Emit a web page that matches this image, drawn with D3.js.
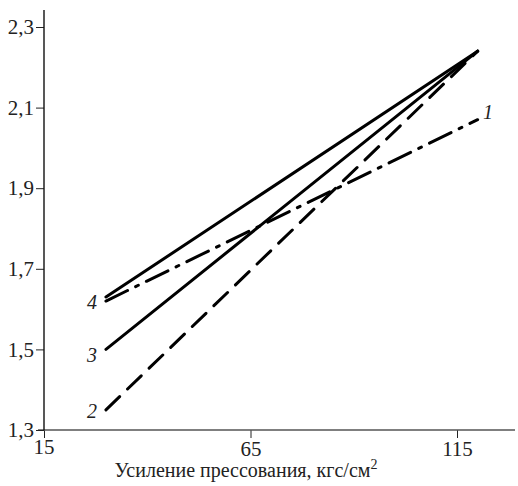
<!DOCTYPE html>
<html>
<head>
<meta charset="utf-8">
<script src="https://cdn.jsdelivr.net/npm/d3@7"></script>
<style>
  body { margin: 0; background: #fff; }
</style>
</head>
<body>
<div id="graphic"></div>
<script>
// data
const xTicks = [15, 65, 115];
const yTicks = [1.3, 1.5, 1.7, 1.9, 2.1, 2.3];
const curveIds = ["1", "2", "3", "4"];
const curveX = [30, 120];
const curve1 = [1.62, 2.07];
const curve2 = [1.35, 2.24];
const curve3 = [1.50, 2.24];
const curve4 = [1.63, 2.24];

const width = 518, height = 486;
const serif = "'Liberation Serif', 'Times New Roman', 'DejaVu Serif', serif";

const svg = d3.select("#graphic")
    .append("svg")
    .attr("width", width)
    .attr("height", height);

const x = d3.scaleLinear().domain([15, 115]).range([44, 457]);
const y = d3.scaleLinear().domain([1.3, 2.3]).range([430, 27]);

// x axis
const xAxis = svg.append("g")
    .attr("transform", "translate(0," + y(1.3) + ")")
    .call(d3.axisBottom(x).tickValues(xTicks).tickSize(8).tickSizeOuter(0).tickPadding(3)
        .tickFormat(d => d === 15 ? "" : d));
xAxis.select(".domain").remove();
xAxis.append("line")
    .attr("x1", 38).attr("x2", 515)
    .attr("stroke", "#555").attr("stroke-width", 1.3);
xAxis.selectAll(".tick line").attr("stroke", "#222");
xAxis.selectAll(".tick text")
    .attr("fill", "#222")
    .style("font-family", serif).style("font-size", "21px");

// "15" under the origin
svg.append("text")
    .attr("x", x(15)).attr("y", 454)
    .attr("text-anchor", "middle")
    .style("font-family", serif).style("font-size", "21px").attr("fill", "#222")
    .text(xTicks[0]);

// y axis
const yAxis = svg.append("g")
    .attr("transform", "translate(" + x(15) + ",0)")
    .call(d3.axisLeft(y).tickValues(yTicks).tickSize(8).tickSizeOuter(0).tickPadding(2)
        .tickFormat(d => d3.format(".1f")(d).replace(".", ",")));
yAxis.select(".domain").remove();
yAxis.append("line")
    .attr("y1", 10).attr("y2", 430)
    .attr("stroke", "#111").attr("stroke-width", 1.4);
yAxis.selectAll(".tick line").attr("stroke", "#222");
yAxis.selectAll(".tick text")
    .attr("fill", "#222")
    .style("font-family", serif).style("font-size", "21px");

// axis title
const title = svg.append("text")
    .attr("x", 246).attr("y", 477)
    .attr("text-anchor", "middle")
    .style("font-family", serif).style("font-size", "20px").attr("fill", "#222");
title.append("tspan").text("Усиление прессования, кгс/см");
title.append("tspan").attr("dy", -8).style("font-size", "14px").text("2");

// curves
const series = [
    {id: curveIds[0], v: curve1, dash: "24,9,3,9"},
    {id: curveIds[1], v: curve2, dash: "19,11"},
    {id: curveIds[2], v: curve3, dash: null},
    {id: curveIds[3], v: curve4, dash: null}
];

const line = d3.line()
    .x(d => x(d[0]))
    .y(d => y(d[1]));

series.forEach(s => {
    svg.append("path")
        .datum(curveX.map((cx, i) => [cx, s.v[i]]))
        .attr("fill", "none")
        .attr("stroke", "#000")
        .attr("stroke-width", 3)
        .attr("stroke-linecap", "round")
        .attr("stroke-dasharray", s.dash)
        .attr("d", line);
});

// curve labels
const labelPos = [
    {id: curveIds[0], x: 488, y: 119},
    {id: curveIds[1], x: 92, y: 418},
    {id: curveIds[2], x: 92, y: 362},
    {id: curveIds[3], x: 92, y: 309}
];
svg.selectAll(".lbl")
    .data(labelPos)
    .enter().append("text")
    .attr("class", "lbl")
    .attr("x", d => d.x).attr("y", d => d.y)
    .attr("text-anchor", "middle")
    .style("font-family", serif)
    .style("font-size", "20px").style("font-style", "italic")
    .attr("fill", "#222")
    .text(d => d.id);
</script>
</body>
</html>
